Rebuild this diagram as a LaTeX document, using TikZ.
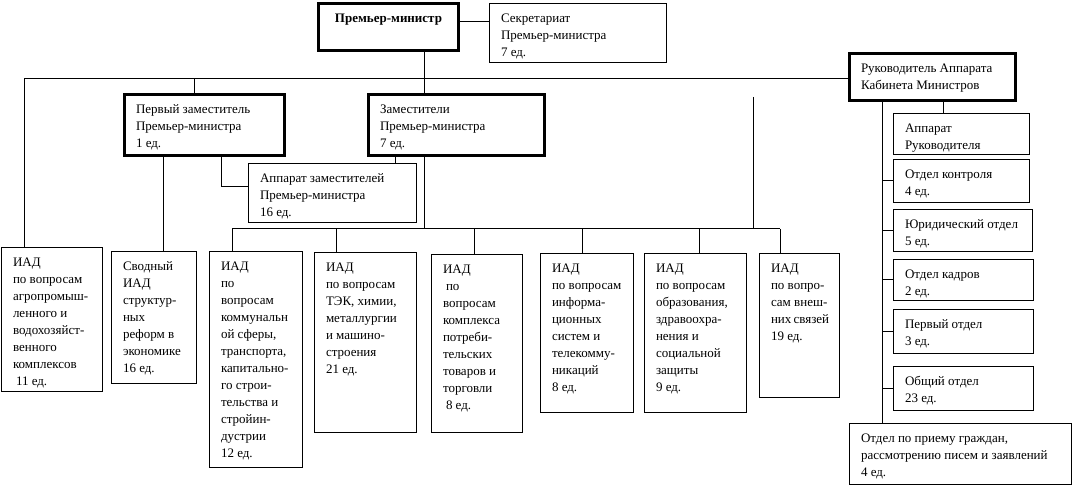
\documentclass[tikz,border=0pt]{standalone}
\usepackage{fontspec}
\setmainfont{Liberation Serif}

% box text: full box width, full box height, lines
\newcommand{\unittext}[3]{\parbox[t][\dimexpr#2pt-15.2pt\relax][t]{\dimexpr#1pt-23pt\relax}{\raggedright\strut#3}}

\begin{document}
\begin{tikzpicture}[
    x=1pt, y=-1pt,
    line width=1pt,
    unit node/.style={draw, anchor=north west, inner xsep=11.5pt, inner ysep=7.6pt, font=\fontsize{13}{17}\selectfont},
    lead node/.style={unit node, line width=3pt}
]
\useasboundingbox (0,0) rectangle (1072,486);

% Prime minister
\node[lead node, font=\fontsize{13}{17}\selectfont\bfseries] (pm) at (317,2) {\unittext{140}{47}{\centering Премьер-министр}};
\node[unit node] (secr) at (489,3) {\unittext{177}{59}{Секретариат\\Премьер-министра\\7 ед.}};

% Deputies
\node[lead node] (first) at (123,93) {\unittext{160}{61}{Первый заместитель\\Премьер-министра\\1 ед.}};
\node[lead node] (deps) at (367,93) {\unittext{176}{61}{Заместители\\Премьер-министра\\7 ед.}};
\node[unit node] (depapp) at (248,163) {\unittext{168}{59}{Аппарат заместителей\\Премьер-министра\\16 ед.}};

% Head of the Cabinet apparatus
\node[lead node] (head) at (848,52) {\unittext{166}{47}{Руководитель Аппарата\\Кабинета Министров}};
\node[unit node] (headapp) at (893,113) {\unittext{136}{41}{Аппарат\\Руководителя}};
\node[unit node] (control) at (893,159) {\unittext{136}{43}{Отдел контроля\\4 ед.}};
\node[unit node] (legal) at (893,209) {\unittext{139}{42}{Юридический отдел\\5 ед.}};
\node[unit node] (staff) at (893,259) {\unittext{140}{41}{Отдел кадров\\2 ед.}};
\node[unit node] (firstdept) at (893,309) {\unittext{140}{44}{Первый отдел\\3 ед.}};
\node[unit node] (general) at (893,366) {\unittext{140}{44}{Общий отдел\\23 ед.}};
\node[unit node] (citizens) at (849,423) {\unittext{222}{61}{Отдел по приему граждан,\\рассмотрению писем и заявлений\\4 ед.}};

% Analytical departments
\node[unit node] (agro) at (1,247) {\unittext{101}{144}{ИАД\\по вопросам\\агропромыш-\\ленного и\\водохозяйст-\\венного\\комплексов\\\hspace*{3pt}11 ед.}};
\node[unit node] (svod) at (111,251) {\unittext{85}{132}{Сводный\\ИАД\\структур-\\ных\\реформ в\\экономике\\16 ед.}};
\node[unit node] (comm) at (209,251) {\unittext{93}{216}{ИАД\\по\\вопросам\\коммунальн\\ой сферы,\\транспорта,\\капитально-\\го строи-\\тельства и\\стройин-\\дустрии\\12 ед.}};
\node[unit node] (tek) at (314,252) {\unittext{102}{180}{ИАД\\по вопросам\\ТЭК, химии,\\металлургии\\и машино-\\строения\\21 ед.}};
\node[unit node] (cons) at (431,254) {\unittext{91}{178}{ИАД\\\hspace*{3pt}по\\вопросам\\комплекса\\потреби-\\тельских\\товаров и\\торговли\\\hspace*{3pt}8 ед.}};
\node[unit node] (info) at (540,253) {\unittext{93}{159}{ИАД\\по вопросам\\информа-\\ционных\\систем и\\телекомму-\\никаций\\8 ед.}};
\node[unit node] (edu) at (644,253) {\unittext{102}{159}{ИАД\\по вопросам\\образования,\\здравоохра-\\нения и\\социальной\\защиты\\9 ед.}};
\node[unit node] (ext) at (759,253) {\unittext{80}{144}{ИАД\\по вопро-\\сам внеш-\\них~связей\\19 ед.}};

% Connectors
\coordinate (pmright) at ([yshift=5.5pt]pm.east);
\coordinate (topleft) at (24,79);
\coordinate (pmdown) at (424,79);
\coordinate (iadleft) at (232,229);
\coordinate (iadright) at (780,229);
\coordinate (spare) at (753,97);
\coordinate (spine) at ([xshift=-50pt]head.south);

\draw (pmright) -- (pmright -| secr.west);
\draw (pmdown |- pm.south) -- (pmdown |- deps.north);
\draw (topleft |- agro.north) -- (topleft) -- (topleft -| head.west);
\draw ([xshift=-10pt]first.north) -- ([xshift=-10pt]first.north |- topleft);
\draw ([xshift=-41pt]first.south) -- ([xshift=-41pt]first.south |- svod.north);
\draw ([xshift=17pt]first.south) |- ([yshift=6.5pt]depapp.west);
\draw ([xshift=-61pt]deps.south) -- ([xshift=-61pt]deps.south |- depapp.north);
\draw (pmdown |- deps.south) -- (pmdown |- iadleft);
\draw (iadleft) -- (iadright);
\draw (spare) -- (spare |- iadright);
\foreach \n/\x in {comm/232, tek/336, cons/474, info/582, edu/699, ext/780} {
  \coordinate (drop) at (\x,229);
  \draw (drop) -- (drop |- \n.north);
}

\draw (spine) -- (spine |- citizens.north);
\draw ([xshift=11pt]head.south) -- ([xshift=11pt]head.south |- headapp.north);
\foreach \n in {control, legal, staff, firstdept, general}
  \draw (\n.west) -- (\n.west -| spine);

\end{tikzpicture}
\end{document}
